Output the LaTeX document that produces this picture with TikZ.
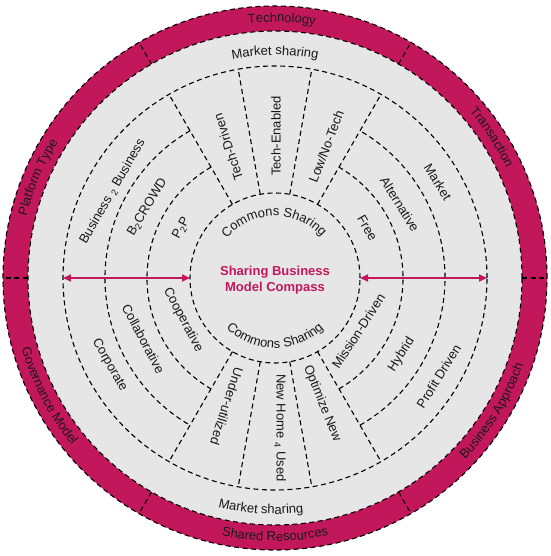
\documentclass[tikz,border=0pt]{standalone}
\usepackage{fontspec}
\setmainfont{Liberation Sans}
\usetikzlibrary{arrows.meta,decorations.text}
\definecolor{compass}{HTML}{C2185B}
\definecolor{compassbg}{HTML}{E6E6E6}
\newcommand{\lblfont}{\fontsize{13}{16}\selectfont}

\begin{document}
\begin{tikzpicture}[x=1pt,y=1pt,
  dashline/.style={draw=black,dash pattern=on 5pt off 3.5pt,line width=1.1pt},
  ringlabel/.style={font=\lblfont,text=black!90,inner sep=0pt},
  curvedlabel/.style={decorate,decoration={text along path,text align=center,
                      text={|\lblfont\color{black!90}|#1}}},
  comparrow/.style={draw=compass,line width=1.6pt,
                    {Triangle[length=8pt,width=7pt]}-{Triangle[length=8pt,width=7pt]}},
]
\useasboundingbox (-275,-278) rectangle (275,278);

% Outer band and background
\fill[compass] (0,0) circle[radius=272];
\draw[dashline] (0,0) circle[radius=272];
\filldraw[fill=compassbg,dashline] (0,0) circle[radius=247];
\foreach \a in {0,60,...,300}
  \draw[dashline] (\a:247) -- (\a:272);

% Rings
\draw[dashline] (0,0) circle[radius=212];
\draw[dashline] (0,0) circle[radius=85];
\foreach \r in {128,170} {
  \draw[dashline] (-60:\r) arc[start angle=-60,end angle=60,radius=\r];
  \draw[dashline] (120:\r) arc[start angle=120,end angle=240,radius=\r];
}
\foreach \a in {60,80,100,120,240,260,280,300}
  \draw[dashline] (\a:85) -- (\a:212);

% Arrows
\coordinate (leftout) at (180:212);
\coordinate (leftin) at (180:85);
\coordinate (rightin) at (0:85);
\coordinate (rightout) at (0:212);
\draw[comparrow] (leftout) -- (leftin);
\draw[comparrow] (rightin) -- (rightout);

% Title
\node[font=\lblfont\bfseries,text=compass,align=center] (title) at (0,-2)
  {Sharing Business\\Model Compass};

% Band labels
\path[curvedlabel=Technology] (113.5:256) arc[start angle=113.5,end angle=63.5,radius=256];
\path[curvedlabel=Transaction] (58:256) arc[start angle=58,end angle=8,radius=256];
\path[curvedlabel=Platform Type] (182:256) arc[start angle=182,end angle=132,radius=256];
\path[curvedlabel=Business Approach] (-60:263) arc[start angle=-60,end angle=-3,radius=263];
\path[curvedlabel=Shared Resources] (-118:263) arc[start angle=-118,end angle=-62,radius=263];
\path[curvedlabel=Governance Model] (179:263) arc[start angle=179,end angle=236,radius=263];

% Market sharing / Commons Sharing
\path[curvedlabel=Market sharing] (115:223) arc[start angle=115,end angle=65,radius=223];
\path[curvedlabel=Market sharing] (-118.5:236) arc[start angle=-118.5,end angle=-68.5,radius=236];
\path[curvedlabel=Commons Sharing] (151:62) arc[start angle=151,end angle=31,radius=62];
\path[curvedlabel=Commons Sharing] (-150:70) arc[start angle=-150,end angle=-30,radius=70];

% Technology
\node[ringlabel,rotate=108] (techdriven) at (109.7:139) {Tech-Driven};
\node[ringlabel,rotate=90] (techenabled) at (89.6:142) {Tech-Enabled};
\node[ringlabel,rotate=69] (lowtech) at (68.7:141) {Low/No-Tech};

% Transaction
\node[ringlabel,rotate=-58] (market) at (30.5:189) {Market};
\node[ringlabel,rotate=-58] (alternative) at (30.6:145) {Alternative};
\node[ringlabel,rotate=-60] (free) at (28.5:105) {Free};

% Platform type
\node[ringlabel,rotate=60] (btob) at (152:184) {Business \textsubscript{2} Business};
\node[ringlabel,rotate=59] (btocrowd) at (151:146) {B\textsubscript{2}CROWD};
\node[ringlabel,rotate=62] (ptop) at (152:106) {P\textsubscript{2}P};

% Governance model
\node[ringlabel,rotate=-60] (corporate) at (207.8:187) {Corporate};
\node[ringlabel,rotate=-62] (collaborative) at (204.8:145) {Collaborative};
\node[ringlabel,rotate=-62] (cooperative) at (204.5:101) {Cooperative};

% Shared resources
\node[ringlabel,rotate=-108] (underused) at (249.4:137) {Under-utilized};
\node[ringlabel,rotate=-90] (newhome) at (272:150) {New Home \textsubscript{4} Used};
\node[ringlabel,rotate=-68] (optimize) at (290.6:134) {Optimize New};

% Business approach
\node[ringlabel,rotate=57] (mission) at (327.4:99) {Mission-Driven};
\node[ringlabel,rotate=58] (hybrid) at (328.8:148) {Hybrid};
\node[ringlabel,rotate=58] (profit) at (329:191) {Profit Driven};

\end{tikzpicture}
\end{document}
